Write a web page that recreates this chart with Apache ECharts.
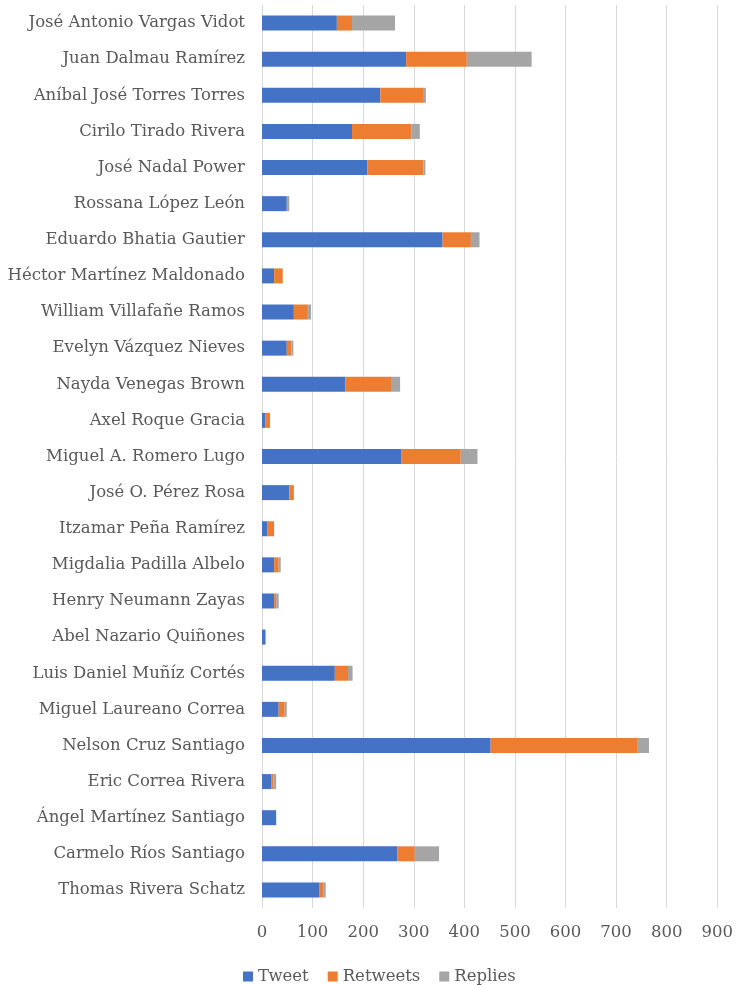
<!DOCTYPE html>
<html>
<head>
<meta charset="utf-8">
<script src="https://cdn.jsdelivr.net/npm/echarts@6/dist/echarts.min.js"></script>
<style>
  html, body { margin: 0; padding: 0; background: #fff; }
  #chart { width: 736px; height: 985px; }
</style>
</head>
<body>
<div id="chart"></div>
<script>
// top to bottom as shown
const names = [
  'José Antonio Vargas Vidot', 'Juan Dalmau Ramírez', 'Aníbal José Torres Torres',
  'Cirilo Tirado Rivera', 'José Nadal Power', 'Rossana López León',
  'Eduardo Bhatia Gautier', 'Héctor Martínez Maldonado', 'William Villafañe Ramos',
  'Evelyn Vázquez Nieves', 'Nayda Venegas Brown', 'Axel Roque Gracia',
  'Miguel A. Romero Lugo', 'José O. Pérez Rosa', 'Itzamar Peña Ramírez',
  'Migdalia Padilla Albelo', 'Henry Neumann Zayas', 'Abel Nazario Quiñones',
  'Luis Daniel Muñíz Cortés', 'Miguel Laureano Correa', 'Nelson Cruz Santiago',
  'Eric Correa Rivera', 'Ángel Martínez Santiago', 'Carmelo Ríos Santiago',
  'Thomas Rivera Schatz'
]
const tweets   = [148, 285, 234, 178, 208, 49, 357, 24, 63, 49, 165, 7, 276, 54, 11, 24, 24, 7, 144, 33, 452, 19, 28, 268, 114]
const retweets = [30, 120, 86, 117, 111, 0, 56, 17, 26, 9, 90, 9, 117, 9, 13, 9, 4, 0, 26, 12, 291, 4, 0, 34, 8]
const replies  = [85, 128, 4, 17, 4, 5, 17, 0, 8, 4, 18, 0, 33, 0, 0, 4, 5, 0, 9, 4, 22, 5, 0, 48, 4]
const xTicks = [0, 100, 200, 300, 400, 500, 600, 700, 800, 900]

const font = '"DejaVu Serif", serif'
const textColor = '#595959'

const chart = echarts.init(document.getElementById('chart'))

function bar(name, data, color) {
  return {
    type: 'bar',
    name,
    stack: 'total',
    barWidth: 15,
    itemStyle: { color },
    emphasis: { disabled: true },
    data
  }
}

chart.setOption({
  animation: false,
  legend: {
    bottom: 0,
    left: 243,
    padding: 0,
    icon: 'rect',
    itemWidth: 10,
    itemHeight: 10,
    itemGap: 19,
    textStyle: { color: textColor, fontSize: 16.5, fontFamily: font }
  },
  grid: {
    left: 262,
    right: 18,
    top: 5,
    bottom: 77
  },
  xAxis: {
    type: 'value',
    min: xTicks[0],
    max: xTicks[xTicks.length - 1],
    interval: 100,
    axisLine: { show: false },
    axisTick: { show: false },
    splitLine: { lineStyle: { color: '#d9d9d9', width: 1 } },
    axisLabel: {
      color: textColor,
      fontSize: 16.5,
      fontFamily: font,
      margin: 16
    }
  },
  yAxis: {
    type: 'category',
    inverse: true,
    data: names,
    axisLine: { show: false },
    axisTick: { show: false },
    axisLabel: {
      color: textColor,
      fontSize: 16.5,
      fontFamily: font,
      margin: 17
    }
  },
  series: [
    bar('Tweet', tweets, '#4472C4'),
    bar('Retweets', retweets, '#ED7D31'),
    bar('Replies', replies, '#A5A5A5')
  ]
})
</script>
</body>
</html>
